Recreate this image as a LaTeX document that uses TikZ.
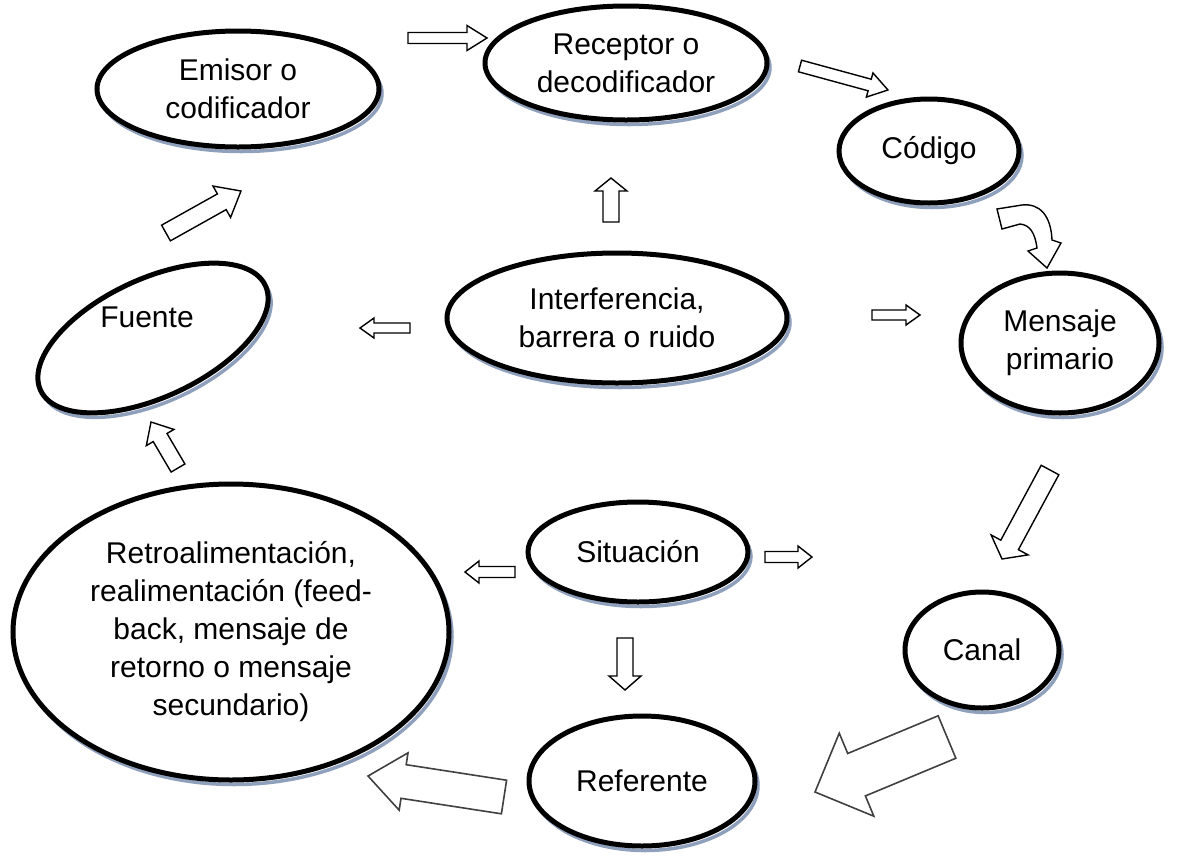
\documentclass[tikz,border=0pt]{standalone}
\usepackage{fontspec}
\setmainfont{Liberation Sans}
\usetikzlibrary{shapes.geometric,shadows,calc}
\definecolor{shadowc}{HTML}{8EA0BC}
\definecolor{arrgray}{HTML}{404040}
\newcommand\blockarrow[6]{% style, tail, tip, shaft half, head half, head length
  \draw[#1] let \p1=(#2), \p2=(#3), \n1={atan2(\y2-\y1,\x2-\x1)}, \n2={veclen(\x2-\x1,\y2-\y1)} in
    [shift={(\p1)}, rotate=\n1]
    (0,#4) -- ({\n2-#6},#4) -- ({\n2-#6},#5) -- ({\n2},0) -- ({\n2-#6},-#5) -- ({\n2-#6},-#4) -- (0,-#4) -- cycle;}
\begin{document}
\begin{tikzpicture}[x=1pt,y=-1pt,
  ell/.style={ellipse, draw=black, line width=5pt, fill=white, inner sep=0pt, align=center,
    font=\fontsize{30}{38}\selectfont,
    copy shadow={shadow xshift=3pt, shadow yshift=-4.5pt, draw=shadowc, line width=3.5pt, fill=white}},
  lbl/.style={font=\fontsize{30}{38}\selectfont, align=center, inner sep=0pt},
  barr/.style={draw=black, line width=1.4pt, fill=white, line join=miter},
  garr/.style={draw=arrgray, line width=1.6pt, fill=white, line join=miter}]
\useasboundingbox (0,0) rectangle (1181,863);

% ellipses
\node[ell, minimum width=282pt, minimum height=116pt] (emisor) at (238,89) {Emisor o\\codificador};
\node[ell, minimum width=282pt, minimum height=114pt] (receptor) at (626,63) {Receptor o\\decodificador};
\node[ell, minimum width=180pt, minimum height=104pt] (codigo) at (929,151) {C\'odigo};
\node[ell, rotate=25, minimum width=248pt, minimum height=118pt] (fuenteov) at (153,338) {};
\node[lbl] (fuente) at (147,317) {Fuente};
\node[ell, minimum width=340pt, minimum height=130pt] (interf) at (617,318) {Interferencia,\\barrera o ruido};
\node[ell, minimum width=198pt, minimum height=140pt] (mensaje) at (1060,343) {Mensaje\\primario};
\node[ell, minimum width=220pt, minimum height=100pt] (situacion) at (638,552) {Situaci\'on};
\node[ell, minimum width=436pt, minimum height=296pt] (retro) at (231,632)
  {Retroalimentaci\'on,\\realimentaci\'on (feed-\\back, mensaje de\\retorno o mensaje\\secundario)};
\node[ell, minimum width=154pt, minimum height=116pt] (canal) at (982,650) {Canal};
\node[ell, minimum width=226pt, minimum height=130pt] (referente) at (642,781) {Referente};

% block arrows
\coordinate (t1) at (408,38);  \coordinate (h1) at (487,38);
\blockarrow{barr}{t1}{h1}{5.5}{12.5}{20}
\coordinate (t2) at (800,66);  \coordinate (h2) at (888,90);
\blockarrow{barr}{t2}{h2}{6}{12.5}{19}
\coordinate (t4) at (611,222); \coordinate (h4) at (611,178);
\blockarrow{barr}{t4}{h4}{8}{16}{13}
\coordinate (t5) at (410,328); \coordinate (h5) at (360,328);
\blockarrow{barr}{t5}{h5}{5}{10}{14}
\coordinate (t6) at (872,315); \coordinate (h6) at (920,315);
\blockarrow{barr}{t6}{h6}{5}{10}{14}
\coordinate (t7) at (166,233); \coordinate (h7) at (241,191);
\blockarrow{barr}{t7}{h7}{9}{18}{22}
\coordinate (t8) at (178,468); \coordinate (h8) at (151,422);
\blockarrow{barr}{t8}{h8}{8}{16}{18}
\coordinate (t9) at (515,572); \coordinate (h9) at (465,572);
\blockarrow{barr}{t9}{h9}{5.5}{11}{14}
\coordinate (t10) at (765,557); \coordinate (h10) at (812,557);
\blockarrow{barr}{t10}{h10}{5.5}{11}{14}
\coordinate (t11) at (625,638); \coordinate (h11) at (625,690);
\blockarrow{barr}{t11}{h11}{8}{16}{14}
\coordinate (t12) at (1050,470); \coordinate (h12) at (1002,559);
\blockarrow{barr}{t12}{h12}{10}{21}{16}
\coordinate (t13) at (947,737); \coordinate (h13) at (815,792);
\blockarrow{garr}{t13}{h13}{23}{45}{45}
\coordinate (t14) at (504,797); \coordinate (h14) at (368,776);
\blockarrow{garr}{t14}{h14}{17}{29}{36}

% curved arrow Codigo -> Mensaje
\draw[barr] (997,209) -- (1022,205) .. controls (1040,203) and (1051,216) .. (1052,240)
  -- (1061,243) -- (1047,268) -- (1028,251) -- (1037,248)
  .. controls (1035,233) and (1030,225) .. (1020,224) -- (1002,229) -- cycle;
\end{tikzpicture}
\end{document}
